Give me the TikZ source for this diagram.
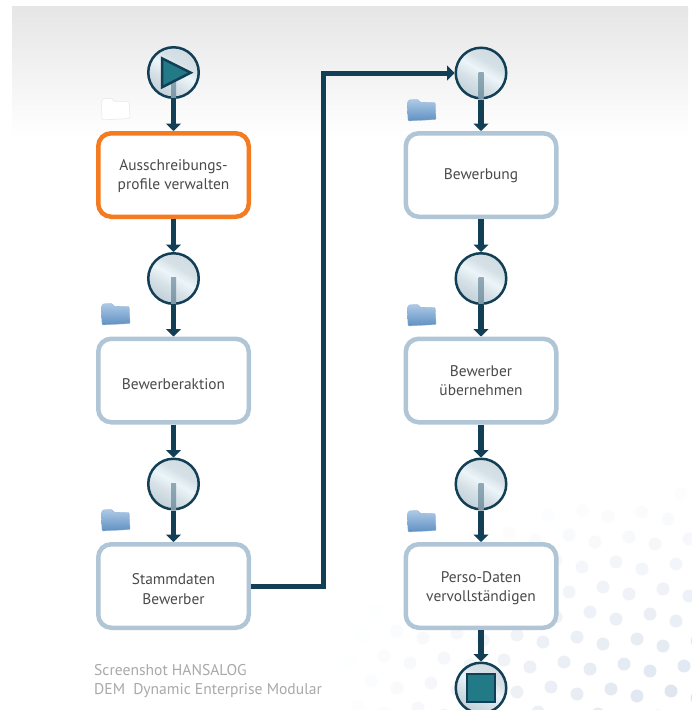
\documentclass[tikz,border=0pt]{standalone}
\usepackage{fontspec}
\setmainfont{PT Sans}
\usetikzlibrary{arrows.meta,calc}
\definecolor{navy}{HTML}{123F55}
\definecolor{teal1}{HTML}{217A85}
\definecolor{boxblue}{HTML}{B0C6D6}
\definecolor{orangeb}{HTML}{F47B20}
\definecolor{txt}{HTML}{4A4A4A}
\definecolor{cap}{HTML}{A9A9AB}
\definecolor{dotc}{HTML}{DFE6F0}
\definecolor{foldtop}{HTML}{AECAE6}
\definecolor{foldbot}{HTML}{5F90C2}
\definecolor{ma}{HTML}{C2D0D8}
\definecolor{mb}{HTML}{D6E1E7}
\definecolor{mc}{HTML}{ECF5F9}
\definecolor{md}{HTML}{D0DBE2}
\definecolor{stemtop}{HTML}{8FA9B6}
\definecolor{stembot}{HTML}{7D98A7}
\newcommand\topgap[1]{\rule{0pt}{#1pt}}
\pgfdeclareverticalshading{metal}{100bp}{
 color(0bp)=(ma);
 color(25bp)=(ma);
 color(40bp)=(mb);
 color(52bp)=(mc);
 color(62bp)=(mb);
 color(75bp)=(md);
 color(100bp)=(md)}
\tikzset{
 procbox/.style={draw=boxblue,fill=white,line width=4.5pt,rounded corners=13pt,
   minimum width=150.5pt,minimum height=83.5pt,align=center,text=txt,inner sep=0pt,
   font=\fontsize{15.4}{19.5}\selectfont},
 activebox/.style={procbox,draw=orangeb},
 evt/.style={circle,draw=navy,line width=2.5pt,minimum size=50.5pt,inner sep=0pt,
   shading=metal,shading angle=-30},
 flow/.style={draw=navy,line width=5.5pt,-{Triangle[width=15pt,length=7.5pt]}},
 glyph/.style={fill=teal1,draw=navy,line width=2.5pt,line join=miter},
 bar/.style={top color=stemtop,bottom color=stembot,draw=none},
 foldershape/.pic={
   \path[pic actions,rotate=3,rounded corners=1pt]
     (0,3) -- (0,21) -- (28,21) -- (28,4) -- (13,3) -- (11,0) -- (2,0) -- cycle;
 },
 bluefolder/.style={top color=foldtop,bottom color=foldbot,draw=foldbot!70,line width=.3pt},
 whitefolder/.style={fill=white,draw=boxblue!40,line width=.5pt},
 capt/.style={text=cap,font=\fontsize{15.6}{19}\selectfont,align=left,anchor=north west,inner sep=0pt}
}
\begin{document}
\begin{tikzpicture}[x=1pt,y=-1pt]
\useasboundingbox (0,0) rectangle (692,710);
\clip (0,0) rectangle (692,710);
\fill[white] (0,0) rectangle (692,710);
\shade[top color=black!10!white,bottom color=white,draw=none] (12,6) rectangle (688,138);
% dot texture
\foreach \i in {-6,...,6}{
 \foreach \j in {-8,...,8}{
  \foreach \p in {0,1}{
   \pgfmathsetmacro{\dx}{577+60*\i+13*\j+26*\p}
   \pgfmathsetmacro{\dy}{637+2*\i-25*\j+7*\p}
   \pgfmathsetmacro{\op}{max(0,min(1,1.02-veclen(\dx-680,(\dy-700)*1.6)/340))}
   \ifdim\op pt>0.03pt
    \fill[dotc,opacity=\op] (\dx,\dy) circle (6.5);
   \fi
  }
 }
}
% process boxes
\node[activebox] (a1) at (173.5,175) {\topgap{13}Ausschreibungs-\\profile verwalten};
\node[procbox] (a2) at (173.5,380.5) {\topgap{19}Bewerberaktion};
\node[procbox] (a3) at (173.5,586) {\topgap{17}Stammdaten\\Bewerber};
\node[procbox] (b1) at (481,175) {\topgap{13}Bewerbung};
\node[procbox] (b2) at (481,380.5) {Bewerber\\übernehmen};
\node[procbox] (b3) at (481,586) {\topgap{15}Perso-Daten\\vervollständigen};
% events
\node[evt] (e0) at (173.5,72.5) {};
\node[evt] (e1) at (173.5,278.5) {};
\node[evt] (e2) at (173.5,484) {};
\node[evt] (f0) at (481,73) {};
\node[evt] (f1) at (481,278.5) {};
\node[evt] (f2) at (481,484) {};
\node[evt] (f3) at (481,688) {};
% folder icons
\pic[whitefolder] at (101,99) {foldershape};
\pic[bluefolder] at (101,304) {foldershape};
\pic[bluefolder] at (101,510) {foldershape};
\pic[bluefolder] at (407,100) {foldershape};
\pic[bluefolder] at (407,305) {foldershape};
\pic[bluefolder] at (407,511) {foldershape};
% connectors
\draw[flow] (e0.south) -- (a1.north);
\draw[flow] (a1.south) -- (e1.north);
\draw[flow] (e1.south) -- (a2.north);
\draw[flow] (a2.south) -- (e2.north);
\draw[flow] (e2.south) -- (a3.north);
\draw[flow] (f0.south) -- (b1.north);
\draw[flow] (b1.south) -- (f1.north);
\draw[flow] (f1.south) -- (b2.north);
\draw[flow] (b2.south) -- (f2.north);
\draw[flow] (f2.south) -- (b3.north);
\draw[flow] (b3.south) -- (f3.north);
\draw[flow,line width=5pt,line join=miter] (a3.east) -- (323,586) -- (323,73) -- (f0.west);
% stems inside events
\foreach \n in {e0,e1,e2,f0,f1,f2}{
 \shade[bar] ($(\n.center)+(-2.5,-1)$) rectangle ($(\n.south)+(2.5,-1.2)$);
}
% start and stop glyphs
\draw[glyph] (162,58.3) -- (190.7,72.7) -- (162,87.3) -- cycle;
\draw[glyph] (467,674) rectangle (495,702);
% caption
\node[capt] (c) at (94,664) {Screenshot HANSALOG\\DEM\ \ Dynamic Enterprise Modular};
\end{tikzpicture}
\end{document}
